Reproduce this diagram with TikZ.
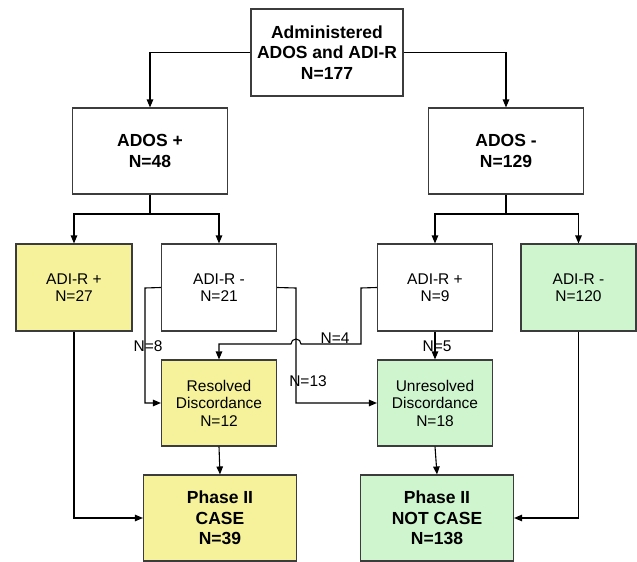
\documentclass[tikz,border=0pt]{standalone}
\usepackage{fontspec}
\setmainfont{Liberation Sans}
\usetikzlibrary{arrows.meta}
\definecolor{boxyellow}{RGB}{245,242,155}
\definecolor{boxgreen}{RGB}{207,245,207}
\definecolor{edgegray}{RGB}{60,60,60}
\begin{document}
\begin{tikzpicture}[x=1pt,y=-1pt,
  basebox/.style={draw=edgegray,line width=1.1pt,inner sep=0pt,align=center,anchor=center},
  boldbox/.style={basebox,font=\bfseries\fontsize{17.5}{20.5}\selectfont},
  plainbox/.style={basebox,font=\fontsize{15.5}{17.5}\selectfont},
  link/.style={draw=black,line width=1.1pt},
  arr/.style={link,-{Triangle[length=8pt,width=6.5pt]}},
  lbl/.style={font=\fontsize{15.5}{17.5}\selectfont,inner sep=0pt}]
\useasboundingbox (0,0) rectangle (637,562);
% boxes
\node[boldbox,minimum width=152,minimum height=87] (top) at (327,52.5) {Administered\\ADOS and ADI-R\\N=177};
\node[boldbox,minimum width=155,minimum height=86] (adosp) at (150,151) {ADOS +\\N=48};
\node[boldbox,minimum width=155,minimum height=86] (adosm) at (506,151) {ADOS -\\N=129};
\node[plainbox,fill=boxyellow,minimum width=116,minimum height=87] (adirpy) at (74,287.5) {ADI-R +\\N=27};
\node[plainbox,minimum width=115,minimum height=87] (adirmw) at (219,287.5) {ADI-R -\\N=21};
\node[plainbox,minimum width=115,minimum height=87] (adirpw) at (435,287.5) {ADI-R +\\N=9};
\node[plainbox,fill=boxgreen,minimum width=115,minimum height=87] (adirmg) at (578.5,287.5) {ADI-R -\\N=120};
\node[plainbox,fill=boxyellow,minimum width=115,minimum height=86] (resolved) at (219,403) {Resolved\\Discordance\\N=12};
\node[plainbox,fill=boxgreen,minimum width=115,minimum height=86] (unresolved) at (435,403) {Unresolved\\Discordance\\N=18};
\node[boldbox,fill=boxyellow,minimum width=153,minimum height=86] (case) at (220,518) {Phase II\\CASE\\N=39};
\node[boldbox,fill=boxgreen,minimum width=153,minimum height=86] (notcase) at (437,518) {Phase II\\NOT CASE\\N=138};
% coordinates
\coordinate (sl) at (150,214);
\coordinate (sr) at (506,214);
\coordinate (lm) at (145,288);
\coordinate (rm) at (296,288);
\coordinate (lp) at (361,288);
\coordinate (hop) at (301,344);
% connectors
\draw[arr] (top.west) -| (adosp.north);
\draw[arr] (top.east) -| (adosm.north);
\draw[link] (adosp.south) -- (sl);
\draw[arr] (sl) -| (adirpy.north);
\draw[arr] (sl) -| (adirmw.north);
\draw[link] (adosm.south) -- (sr);
\draw[arr] (sr) -| (adirpw.north);
\draw[arr] (sr) -| (adirmg.north);
\draw[arr] (adirmw.west) -- (lm) |- (resolved.west);
\draw[arr] (adirmw.east) -- (rm) |- (unresolved.west);
\draw[arr] (adirpw.west) -- (lp) |- (hop) arc[start angle=0,end angle=-180,radius=5] -| (resolved.north);
\draw[arr] (adirpw.south) -- (unresolved.north);
\draw[arr] (resolved.south) -- (case.north);
\draw[arr] (unresolved.south) -- (notcase.north);
\draw[arr] (adirpy.south) |- (case.west);
\draw[arr] (adirmg.south) |- (notcase.east);
% labels
\node[lbl] (l8) at (148,346) {N=8};
\node[lbl] (l13) at (308,381) {N=13};
\node[lbl] (l4) at (335,338) {N=4};
\node[lbl] (l5) at (437,346) {N=5};
\end{tikzpicture}
\end{document}
